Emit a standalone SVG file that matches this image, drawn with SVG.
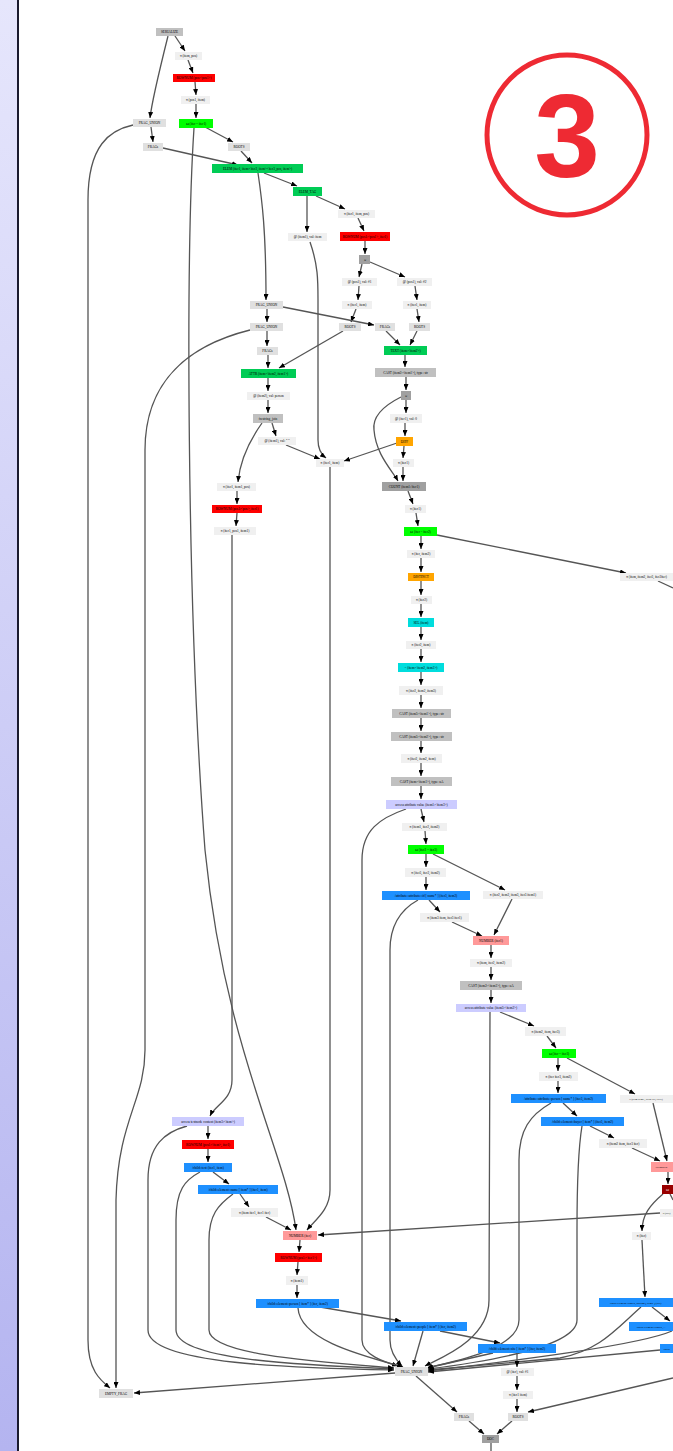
<svg xmlns="http://www.w3.org/2000/svg" width="673" height="1451" viewBox="0 0 673 1451">
<defs>
<linearGradient id="bar" x1="0" y1="0" x2="0" y2="1"><stop offset="0" stop-color="#e6e6fc"/><stop offset="1" stop-color="#b4b4f0"/></linearGradient>
<marker id="ah" markerWidth="6" markerHeight="5" refX="6" refY="2.5" orient="auto" markerUnits="userSpaceOnUse"><path d="M0,0 L6,2.5 L0,5 z" fill="#000"/></marker>
</defs>
<style>
.e{fill:none;stroke:#555;stroke-width:1.3;marker-end:url(#ah)}
.e2{fill:none;stroke:#555;stroke-width:1.3}
text{font-family:"Liberation Serif","Times New Roman",serif;font-size:3.4px;fill:#000;text-anchor:middle}
.sm{font-size:2.8px}
.lt{fill:#f0f0f0}.fr{fill:#e0e0e0}.gr{fill:#c0c0c0}.dg{fill:#a0a0a0}.rd{fill:#ff0000}.bg{fill:#00ff00}.mg{fill:#00cc55}.or{fill:#ffa500}.cy{fill:#00dddd}.lv{fill:#ccccff}.bl{fill:#1e90ff}.pk{fill:#ff9999}.dr{fill:#990000}
</style>
<rect x="0" y="0" width="17" height="1451" fill="url(#bar)"/>
<line x1="18" y1="0" x2="18" y2="1451" stroke="#1a1a2e" stroke-width="2"/>
<circle cx="567" cy="135" r="80" fill="none" stroke="#ee2a33" stroke-width="5"/>
<text x="567" y="177" style="font-family:'Liberation Sans',Arial,sans-serif;font-size:118px;font-weight:bold;fill:#ee2a33">3</text>
<g id="edges">
<path class="e" d="M175,36 L185,51"/>
<path class="e" d="M168,36 C162,60 152,100 150,118"/>
<path class="e" d="M188,60 L193,73"/>
<path class="e" d="M195,82 L196,95"/>
<path class="e" d="M196,104 L196,118"/>
<path class="e" d="M205,127 L233,142"/>
<path class="e" d="M194,128 C186,250 186,600 205,850 C225,1050 285,1150 296,1230"/>
<path class="e" d="M151,127 L153,142"/>
<path class="e" d="M133,125 C110,130 88,145 88,200 L88,1340 C88,1370 100,1380 110,1388"/>
<path class="e" d="M163,148 L238,165"/>
<path class="e" d="M241,151 L252,163"/>
<path class="e" d="M264,173 L297,186"/>
<path class="e" d="M258,173 C262,200 266,230 266,300"/>
<path class="e" d="M316,196 L345,209"/>
<path class="e" d="M307,196 L307,232"/>
<path class="e" d="M310,242 C318,265 318,280 318,300 L318,440 C318,450 322,455 326,458"/>
<path class="e" d="M358,218 L364,231"/>
<path class="e" d="M365,241 L365,254"/>
<path class="e" d="M362,264 L359,277"/>
<path class="e" d="M370,262 L405,277"/>
<path class="e" d="M359,286 L358,300"/>
<path class="e" d="M415,286 L417,300"/>
<path class="e" d="M356,309 L351,322"/>
<path class="e" d="M417,309 L419,322"/>
<path class="e" d="M283,307 L374,325"/>
<path class="e" d="M267,309 L267,322"/>
<path class="e" d="M267,331 L267,346"/>
<path class="e" d="M250,330 C190,345 145,380 145,450 L145,1050 C145,1100 118,1120 116,1200 L116,1388"/>
<path class="e" d="M343,331 L279,368"/>
<path class="e" d="M386,331 L400,345"/>
<path class="e" d="M417,331 L410,345"/>
<path class="e" d="M405,355 L405,367"/>
<path class="e" d="M268,355 L268,368"/>
<path class="e" d="M268,378 L268,391"/>
<path class="e" d="M268,400 L268,413"/>
<path class="e" d="M272,423 L276,436"/>
<path class="e" d="M262,423 C250,440 240,460 238,482"/>
<path class="e" d="M286,445 L320,459"/>
<path class="e" d="M406,377 L406,390"/>
<path class="e" d="M406,400 L406,413"/>
<path class="e" d="M401,397 C385,405 372,415 374,430 C376,455 392,470 398,481"/>
<path class="e" d="M405,423 L405,436"/>
<path class="e" d="M397,443 L344,461"/>
<path class="e" d="M404,446 L403,458"/>
<path class="e" d="M403,467 L403,481"/>
<path class="e" d="M408,491 L413,504"/>
<path class="e" d="M416,513 L418,526"/>
<path class="e" d="M421,536 L421,549"/>
<path class="e" d="M437,535 L626,573"/>
<path class="e2" d="M658,581 L673,588"/>
<path class="e" d="M330,467 L330,1190 C330,1210 315,1220 307,1230"/>
<path class="e" d="M421,558 L421,572"/>
<path class="e" d="M421,581 L421,595"/>
<path class="e" d="M421,604 L421,617"/>
<path class="e" d="M421,627 L421,640"/>
<path class="e" d="M421,649 L421,662"/>
<path class="e" d="M421,672 L421,685"/>
<path class="e" d="M421,695 L421,708"/>
<path class="e" d="M421,718 L421,731"/>
<path class="e" d="M421,741 L421,753"/>
<path class="e" d="M421,763 L421,776"/>
<path class="e" d="M421,786 L421,799"/>
<path class="e" d="M237,491 L237,504"/>
<path class="e" d="M237,513 L236,526"/>
<path class="e" d="M232,535 C232,600 232,1050 232,1080 C232,1100 215,1105 210,1116"/>
<path class="e" d="M421,809 L424,822"/>
<path class="e" d="M406,809 C380,818 362,830 362,860 L362,1340 C362,1355 385,1362 398,1366"/>
<path class="e" d="M425,831 L426,844"/>
<path class="e" d="M426,854 L426,867"/>
<path class="e" d="M433,854 L505,890"/>
<path class="e" d="M426,877 L426,890"/>
<path class="e" d="M429,900 L440,912"/>
<path class="e" d="M418,900 C400,910 390,925 390,950 L390,1340 C390,1352 396,1360 402,1366"/>
<path class="e" d="M452,922 L482,936"/>
<path class="e" d="M512,899 L494,935"/>
<path class="e" d="M491,945 L491,958"/>
<path class="e" d="M491,967 L491,980"/>
<path class="e" d="M491,990 L491,1003"/>
<path class="e" d="M500,1012 L534,1026"/>
<path class="e" d="M490,1012 L489,1300 C489,1340 440,1358 425,1366"/>
<path class="e" d="M547,1036 L556,1048"/>
<path class="e" d="M558,1058 L558,1071"/>
<path class="e" d="M567,1058 L635,1094"/>
<path class="e" d="M558,1081 L558,1093"/>
<path class="e" d="M563,1103 L577,1116"/>
<path class="e" d="M551,1103 C530,1115 519,1130 519,1160 L519,1320 C519,1350 450,1362 427,1368"/>
<path class="e" d="M590,1126 L614,1138"/>
<path class="e" d="M582,1126 C578,1150 577,1180 577,1230 L577,1320 C577,1350 460,1365 428,1369"/>
<path class="e" d="M632,1148 L660,1161"/>
<path class="e" d="M653,1103 L667,1161"/>
<path class="e" d="M668,1172 L668,1184"/>
<path class="e" d="M663,1194 C650,1205 642,1215 642,1231"/>
<path class="e2" d="M670,1194 L673,1200"/>
<path class="e" d="M660,1213 L318,1235"/>
<path class="e" d="M642,1240 L645,1297"/>
<path class="e" d="M652,1307 L670,1321"/>
<path class="e" d="M641,1307 C615,1330 600,1350 560,1358 L428,1370"/>
<path class="e" d="M672,1331 C640,1345 520,1360 428,1371"/>
<path class="e" d="M660,1350 L428,1372"/>
<path class="e" d="M673,1378 L528,1412"/>
<path class="e" d="M208,1126 L208,1139"/>
<path class="e" d="M187,1126 C165,1132 148,1145 148,1180 L148,1330 C148,1365 300,1368 394,1370"/>
<path class="e" d="M208,1149 L208,1162"/>
<path class="e" d="M213,1172 L229,1184"/>
<path class="e" d="M200,1172 C185,1180 176,1190 176,1220 L176,1330 C176,1360 300,1365 394,1369"/>
<path class="e" d="M240,1194 L249,1207"/>
<path class="e" d="M233,1194 C218,1205 209,1215 209,1240 L209,1330 C209,1355 320,1362 394,1368"/>
<path class="e" d="M266,1217 L291,1230"/>
<path class="e" d="M300,1240 L299,1252"/>
<path class="e" d="M298,1262 L297,1275"/>
<path class="e" d="M297,1285 L297,1298"/>
<path class="e" d="M320,1307 L401,1321"/>
<path class="e" d="M298,1308 C300,1340 360,1355 403,1367"/>
<path class="e" d="M440,1331 L500,1343"/>
<path class="e" d="M423,1331 L413,1366"/>
<path class="e" d="M493,1353 L427,1368"/>
<path class="e" d="M517,1353 L517,1367"/>
<path class="e" d="M517,1376 L517,1390"/>
<path class="e" d="M517,1399 L517,1412"/>
<path class="e" d="M416,1376 L457,1412"/>
<path class="e" d="M469,1421 L484,1434"/>
<path class="e" d="M512,1421 L497,1434"/>
<path class="e2" d="M491,1443 L491,1451"/>
<path class="e" d="M395,1373 L134,1393"/>
</g>
<g id="n1"><rect class="gr" x="156" y="28" width="27" height="8"/><text x="169.5" y="33.2">SERIALIZE</text></g>
<g id="n2"><rect class="lt" x="175" y="52" width="27" height="8"/><text x="188.5" y="57.2">π (item, pos)</text></g>
<g id="n3"><rect class="rd" x="173" y="74" width="42" height="8"/><text x="194" y="79.2">ROWNUM (pos:&lt;pos1&gt;)</text></g>
<g id="n4"><rect class="lt" x="181" y="96" width="29" height="8"/><text x="195.5" y="101.2">π (pos1, item)</text></g>
<g id="n5"><rect class="bg" x="179" y="119" width="34" height="9"/><text x="196" y="124.7">⋈ (iter = iter1)</text></g>
<g id="n6"><rect class="fr" x="133" y="119" width="33" height="8"/><text x="149.5" y="124.2">FRAG_UNION</text></g>
<g id="n7"><rect class="fr" x="143" y="143" width="20" height="8"/><text x="153" y="148.2">FRAGs</text></g>
<g id="n8"><rect class="fr" x="228" y="143" width="22" height="8"/><text x="239" y="148.2">ROOTS</text></g>
<g id="n9"><rect class="mg" x="212" y="164" width="91" height="9"/><text x="257.5" y="169.7">ELEM (iter1, item:&lt;iter2, item&gt;&lt;iter3, pos, item&gt;)</text></g>
<g id="n10"><rect class="mg" x="293" y="187" width="29" height="9"/><text x="307.5" y="192.7">ELEM_TAG</text></g>
<g id="n11"><rect class="lt" x="338" y="210" width="37" height="8"/><text x="356.5" y="215.2">π (iter1, item, pos)</text></g>
<g id="n12"><rect class="lt" x="288" y="233" width="39" height="8"/><text x="307.5" y="238.2">@ (item1), val: item</text></g>
<g id="n13"><rect class="rd" x="340" y="232" width="50" height="9"/><text x="365" y="237.7">ROWNUM (pos1:&lt;pos1&gt;, iter1)</text></g>
<g id="n14"><rect class="dg" x="359" y="255" width="11" height="9"/><text x="364.5" y="260.7">∪</text></g>
<g id="n15"><rect class="lt" x="342" y="278" width="35" height="8"/><text x="359.5" y="283.2">@ (pos1), val: #1</text></g>
<g id="n16"><rect class="lt" x="397" y="278" width="35" height="8"/><text x="414.5" y="283.2">@ (pos1), val: #2</text></g>
<g id="n17"><rect class="lt" x="342" y="301" width="30" height="8"/><text x="357" y="306.2">π (iter1, item)</text></g>
<g id="n18"><rect class="lt" x="403" y="301" width="28" height="8"/><text x="417" y="306.2">π (iter1, item)</text></g>
<g id="n19"><rect class="fr" x="339" y="323" width="22" height="8"/><text x="350" y="328.2">ROOTS</text></g>
<g id="n20"><rect class="fr" x="375" y="323" width="20" height="8"/><text x="385" y="328.2">FRAGs</text></g>
<g id="n21"><rect class="fr" x="409" y="323" width="21" height="8"/><text x="419.5" y="328.2">ROOTS</text></g>
<g id="n22"><rect class="mg" x="384" y="346" width="43" height="9"/><text x="405.5" y="351.7">TEXT (item:&lt;item2&gt;)</text></g>
<g id="n23"><rect class="gr" x="375" y="368" width="61" height="9"/><text x="405.5" y="373.7">CAST (item2:&lt;item1&gt;), type: str</text></g>
<g id="n24"><rect class="fr" x="250" y="301" width="33" height="8"/><text x="266.5" y="306.2">FRAG_UNION</text></g>
<g id="n25"><rect class="fr" x="250" y="323" width="33" height="8"/><text x="266.5" y="328.2">FRAG_UNION</text></g>
<g id="n26"><rect class="fr" x="257" y="347" width="21" height="8"/><text x="267.5" y="352.2">FRAGs</text></g>
<g id="n27"><rect class="mg" x="241" y="369" width="55" height="9"/><text x="268.5" y="374.7">ATTR (item:&lt;item2, item1&gt;)</text></g>
<g id="n28"><rect class="lt" x="247" y="392" width="43" height="8"/><text x="268.5" y="397.2">@ (item2), val: person</text></g>
<g id="n29"><rect class="gr" x="253" y="414" width="30" height="9"/><text x="268" y="419.7">fn:string_join</text></g>
<g id="n30"><rect class="lt" x="258" y="437" width="38" height="8"/><text x="277" y="442.2">@ (item1), val: " "</text></g>
<g id="n31"><rect class="lt" x="316" y="459" width="28" height="8"/><text x="330" y="464.2">π (iter1, item)</text></g>
<g id="n32"><rect class="lt" x="217" y="483" width="39" height="8"/><text x="236.5" y="488.2">π (iter1, item1, pos)</text></g>
<g id="n33"><rect class="rd" x="212" y="505" width="50" height="8"/><text x="237" y="510.2">ROWNUM (pos1:&lt;pos&gt;, iter1)</text></g>
<g id="n34"><rect class="lt" x="214" y="527" width="42" height="8"/><text x="235" y="532.2">π (iter1, pos1, item1)</text></g>
<g id="n35"><rect class="dg" x="401" y="391" width="10" height="9"/><text x="406" y="396.7">∪</text></g>
<g id="n36"><rect class="lt" x="390" y="414" width="32" height="9"/><text x="406" y="419.7">@ (iter1), val: 0</text></g>
<g id="n37"><rect class="or" x="396" y="437" width="17" height="9"/><text x="404.5" y="442.7">DIFF</text></g>
<g id="n38"><rect class="lt" x="393" y="459" width="21" height="8"/><text x="403.5" y="464.2">π (iter1)</text></g>
<g id="n39"><rect class="dg" x="382" y="482" width="44" height="9"/><text x="404" y="487.7">COUNT (item1:/iter1)</text></g>
<g id="n40"><rect class="lt" x="405" y="505" width="21" height="8"/><text x="415.5" y="510.2">π (iter1)</text></g>
<g id="n41"><rect class="bg" x="404" y="527" width="33" height="9"/><text x="420.5" y="532.7">⋈ (iter = iter2)</text></g>
<g id="n42"><rect class="lt" x="407" y="550" width="28" height="8"/><text x="421" y="555.2">π (iter, item2)</text></g>
<g id="n43"><rect class="or" x="408" y="573" width="26" height="8"/><text x="421" y="578.2">DISTINCT</text></g>
<g id="n44"><rect class="lt" x="411" y="596" width="21" height="8"/><text x="421.5" y="601.2">π (iter2)</text></g>
<g id="n45"><rect class="cy" x="408" y="618" width="26" height="9"/><text x="421" y="623.7">SEL (item)</text></g>
<g id="n46"><rect class="lt" x="406" y="641" width="30" height="8"/><text x="421" y="646.2">π (iter2, item)</text></g>
<g id="n47"><rect class="cy" x="398" y="663" width="46" height="9"/><text x="421" y="668.7">= (item:&lt;item2, item3&gt;)</text></g>
<g id="n48"><rect class="lt" x="399" y="686" width="44" height="9"/><text x="421" y="691.7">π (iter2, item2, item3)</text></g>
<g id="n49"><rect class="gr" x="392" y="709" width="59" height="9"/><text x="421.5" y="714.7">CAST (item3:&lt;item1&gt;), type: str</text></g>
<g id="n50"><rect class="gr" x="391" y="732" width="61" height="9"/><text x="421.5" y="737.7">CAST (item3:&lt;item2&gt;), type: str</text></g>
<g id="n51"><rect class="lt" x="401" y="754" width="41" height="9"/><text x="421.5" y="759.7">π (iter2, item2, item)</text></g>
<g id="n52"><rect class="gr" x="391" y="777" width="61" height="9"/><text x="421.5" y="782.7">CAST (item:&lt;item1&gt;), type: uA</text></g>
<g id="n53"><rect class="lv" x="386" y="800" width="71" height="9"/><text x="421.5" y="805.7">access attribute value (item1:&lt;item3&gt;)</text></g>
<g id="n54"><rect class="lt" x="402" y="823" width="45" height="8"/><text x="424.5" y="828.2">π (item1, iter2, item2)</text></g>
<g id="n55"><rect class="bg" x="408" y="845" width="36" height="9"/><text x="426" y="850.7">⋈ (iter2 = iter3)</text></g>
<g id="n56"><rect class="lt" x="405" y="868" width="41" height="9"/><text x="425.5" y="873.7">π (iter3, iter2, item2)</text></g>
<g id="n57"><rect class="bl" x="382" y="891" width="88" height="9"/><text x="426" y="896.7">/attribute::attribute::id [ name* ] (iter3, item2)</text></g>
<g id="n58"><rect class="lt" x="483" y="891" width="60" height="8"/><text x="513" y="896.2">π (iter2, item2, item3, iter3 item1)</text></g>
<g id="n59"><rect class="lt" x="420" y="913" width="49" height="9"/><text x="444.5" y="918.7">π (item3 item, iter3 iter1)</text></g>
<g id="n60"><rect class="pk" x="473" y="936" width="36" height="9"/><text x="491" y="941.7">NUMBER (iter1)</text></g>
<g id="n61"><rect class="lt" x="470" y="959" width="42" height="8"/><text x="491" y="964.2">π (item, iter2, item2)</text></g>
<g id="n62"><rect class="gr" x="460" y="981" width="62" height="9"/><text x="491" y="986.7">CAST (item2:&lt;item3&gt;), type: uA</text></g>
<g id="n63"><rect class="lv" x="456" y="1004" width="70" height="8"/><text x="491" y="1009.2">access attribute value (item3:&lt;item2&gt;)</text></g>
<g id="n64"><rect class="lt" x="525" y="1027" width="41" height="9"/><text x="545.5" y="1032.7">π (item2, item, iter3)</text></g>
<g id="n65"><rect class="bg" x="542" y="1049" width="34" height="9"/><text x="559" y="1054.7">⋈ (iter = iter3)</text></g>
<g id="n66"><rect class="lt" x="539" y="1072" width="39" height="9"/><text x="558.5" y="1077.7">π (iter iter3, item2)</text></g>
<g id="n67"><rect class="bl" x="511" y="1094" width="95" height="9"/><text x="558.5" y="1099.7">/attribute::attribute::person [ name* ] (iter3, item2)</text></g>
<g id="n68"><rect class="lt" x="620" y="1095" width="66" height="8"/><text class="sm" x="646" y="1100">π (item item1, iter2 iter, iter3)</text></g>
<g id="n69"><rect class="bl" x="541" y="1117" width="83" height="9"/><text x="582.5" y="1122.7">/child::element::buyer [ item* ] (iter3, item2)</text></g>
<g id="n70"><rect class="lt" x="599" y="1139" width="48" height="9"/><text x="623" y="1144.7">π (item2 item, iter3 iter)</text></g>
<g id="n71"><rect class="pk" x="651" y="1162" width="36" height="10"/><text class="sm" x="661.5" y="1168">NUMBER</text></g>
<g id="n72"><rect class="dr" x="662" y="1185" width="24" height="9"/><text x="667.5" y="1190.7" style="fill:#fff">⋈</text></g>
<g id="n73"><rect class="lt" x="660" y="1209" width="40" height="8"/><text class="sm" x="666.5" y="1214">π (iter)</text></g>
<g id="n74"><rect class="lt" x="632" y="1232" width="19" height="8"/><text x="641.5" y="1237.2">π (iter)</text></g>
<g id="n75"><rect class="bl" x="599" y="1298" width="90" height="9"/><text class="sm" x="635.5" y="1303.5">/child::element::closed_auction [ item* ] (iter)</text></g>
<g id="n76"><rect class="bl" x="629" y="1322" width="80" height="9"/><text class="sm" x="651" y="1327.5">/child::element::closed_...</text></g>
<g id="n77"><rect class="bl" x="660" y="1344" width="70" height="9"/><text class="sm" x="666.5" y="1349.5">/child</text></g>
<g id="n78"><rect class="lv" x="172" y="1117" width="72" height="9"/><text x="208" y="1122.7">access textnode content (item3:&lt;item&gt;)</text></g>
<g id="n79"><rect class="rd" x="182" y="1140" width="52" height="9"/><text x="208" y="1145.7">ROWNUM (pos1:&lt;item&gt;, iter1)</text></g>
<g id="n80"><rect class="bl" x="184" y="1163" width="48" height="9"/><text x="208" y="1168.7">/child::text (iter1, item)</text></g>
<g id="n81"><rect class="bl" x="198" y="1185" width="80" height="9"/><text x="238" y="1190.7">/child::element::name [ item* ] (iter1, item)</text></g>
<g id="n82"><rect class="lt" x="231" y="1208" width="47" height="9"/><text x="254.5" y="1213.7">π (item iter1, iter1 iter)</text></g>
<g id="n83"><rect class="pk" x="283" y="1231" width="34" height="9"/><text x="300" y="1236.7">NUMBER (iter)</text></g>
<g id="n84"><rect class="rd" x="275" y="1253" width="47" height="9"/><text x="298.5" y="1258.7">ROWNUM (pos1:&lt;iter1&gt;)</text></g>
<g id="n85"><rect class="lt" x="286" y="1276" width="22" height="9"/><text x="297" y="1281.7">π (item1)</text></g>
<g id="n86"><rect class="bl" x="256" y="1299" width="83" height="9"/><text x="297.5" y="1304.7">/child::element::person [ item* ] (iter, item2)</text></g>
<g id="n87"><rect class="bl" x="384" y="1322" width="83" height="9"/><text x="425.5" y="1327.7">/child::element::people [ item* ] (iter, item2)</text></g>
<g id="n88"><rect class="bl" x="478" y="1344" width="78" height="9"/><text x="517" y="1349.7">/child::element::site [ item* ] (iter, item2)</text></g>
<g id="n89"><rect class="fr" x="395" y="1367" width="33" height="9"/><text x="411.5" y="1372.7">FRAG_UNION</text></g>
<g id="n90"><rect class="lt" x="501" y="1368" width="33" height="8"/><text x="517.5" y="1373.2">@ (iter), val: #1</text></g>
<g id="n91"><rect class="lt" x="503" y="1391" width="30" height="8"/><text x="518" y="1396.2">π (iter1 item)</text></g>
<g id="n92"><rect class="fr" x="454" y="1413" width="20" height="8"/><text x="464" y="1418.2">FRAGs</text></g>
<g id="n93"><rect class="fr" x="508" y="1413" width="20" height="8"/><text x="518" y="1418.2">ROOTS</text></g>
<g id="n94"><rect class="dg" x="482" y="1435" width="17" height="8"/><text x="490.5" y="1440.2">DOC</text></g>
<g id="n95"><rect class="fr" x="99" y="1389" width="34" height="9"/><text x="116" y="1394.7">EMPTY_FRAG</text></g>
<g id="n96"><rect class="lt" x="620" y="573" width="53" height="8"/><text x="646.5" y="578.2">π (item, item2, iter3, iter2iter)</text></g>
</svg>
